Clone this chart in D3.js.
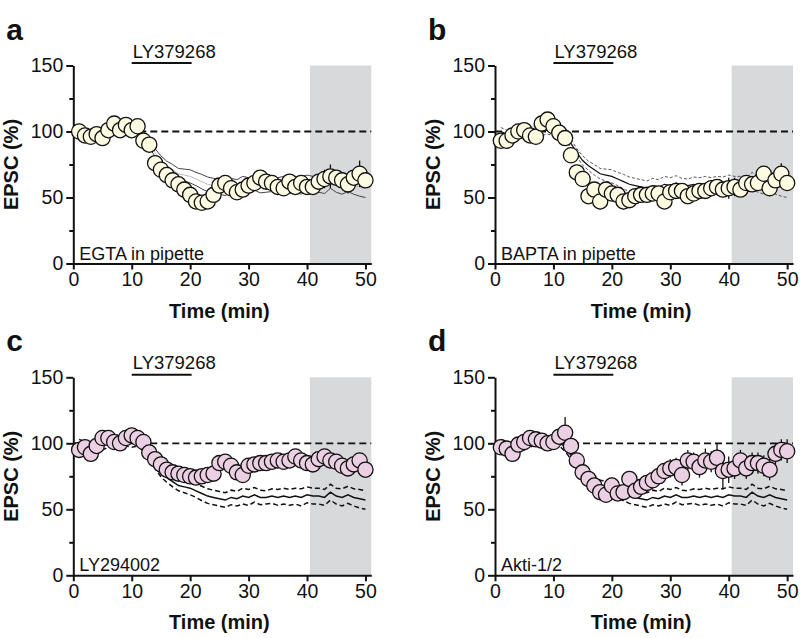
<!DOCTYPE html>
<html>
<head>
<meta charset="utf-8">
<script src="https://cdn.jsdelivr.net/npm/d3@7"></script>
<style>
  body { margin: 0; background: #fff; }
  svg text { font-family: "Liberation Sans", Arial, sans-serif; fill: #111; }
</style>
</head>
<body>
<svg id="fig" width="800" height="638"></svg>
<script>
// time points (min)
const times = [1,2,3,4,5,6,7,8,9,10,11,12,13,14,15,16,17,18,19,20,21,22,23,24,25,
  26,27,28,29,30,31,32,33,34,35,36,37,38,39,40,41,42,43,44,45,46,47,48,49,50];

// a: EGTA in pipette
const egtaMean = [100,97,96,98,95,101,106,101,105,101,104,93,90,76,71,67,63,60,56,52,47,46,47,52,59,
  61,57,54,56,59,61,65,62,61,58,57,62,58,61,58,58,62,64,66,65,63,60,65,68,63];
const egtaSem = [3,3,3,3,4,3,4,3,3,3,3,3,3,3,3,3,3,3,3,3,3,3,4,4,4,
  4,4,4,4,4,4,4,4,5,5,5,4,4,4,4,4,5,7,9,4,5,7,5,10,5];

// b: BAPTA in pipette
const baptaMean = [93,93,97,100,101,97,96,106,109,104,99,95,82,69,64,51,56,47,56,53,52,47,48,51,52,
  52,53,53,47,54,55,55,51,53,55,55,57,58,56,57,58,56,61,60,61,68,57,63,68,61];
const baptaSem = [3,3,3,3,3,3,3,3,3,3,3,3,4,4,4,5,5,6,5,4,4,6,5,4,4,
  4,4,5,5,5,4,4,5,5,4,4,5,5,6,8,7,5,5,5,5,5,6,5,8,6];

// c: LY294002
const lyMean = [95,97,92,98,104,104,101,100,104,106,104,101,93,88,84,80,78,77,76,75,74,75,76,77,85,
  86,83,78,76,83,84,85,85,86,87,86,87,90,87,85,84,88,90,87,86,83,81,84,87,80];
const lySem = [3,4,3,3,3,3,3,4,3,3,3,3,3,3,3,3,3,3,3,3,3,3,4,4,4,
  4,4,4,5,4,4,4,4,4,4,4,4,4,4,4,4,5,5,5,4,5,4,4,6,5];

// d: Akti-1/2
const aktiMean = [97,96,92,99,101,104,103,102,100,101,105,108,98,87,78,73,68,63,61,68,62,63,73,64,67,
  70,72,75,79,81,82,76,87,86,82,87,86,89,79,80,81,87,81,85,85,83,80,92,95,94];
const aktiSem = [4,4,4,4,4,4,4,4,4,4,5,12,5,5,5,5,5,5,5,6,5,5,6,5,5,
  6,6,6,6,7,7,8,8,7,8,9,8,11,14,10,8,8,8,8,8,8,8,8,8,9];

// LY379268 alone (reference trace, mean and SEM)
const ctrlMean = [100,98,97,99,98,100,102,100,101,100,101,97,91,84,78,74,71,68,67,66,64,62,60,59,58,
  57,59,58,60,59,61,59,59,60,59,60,59,60,59,61,60,60,59,63,60,59,61,59,58,57];
const ctrlSem = [3,3,3,3,3,3,3,3,3,3,3,3,3,3,3.5,3.5,4,4,4.5,5,5,5.5,5.5,5.5,5.5,
  5.5,5.5,5.5,6,6,5.5,5.5,5,5.5,6,6,6,6,6.5,6,6,6,6,6,6,6.5,6.5,6.5,7,7];

const xTicks = [0, 10, 20, 30, 40, 50];
const yTicks = [0, 50, 100, 150];
const yMinorTicks = [25, 75, 125];
const drugBar = [10, 20];
const analysisWindow = [40.5, 51];

const panels = [
  { letter: "a", note: "EGTA in pipette", mean: egtaMean, sem: egtaSem, fill: "#fdfbe2", ref: "thin", left: 73.3, bottom: 263.5 },
  { letter: "b", note: "BAPTA in pipette", mean: baptaMean, sem: baptaSem, fill: "#fdfbe2", ref: "light", left: 495, bottom: 263.5 },
  { letter: "c", note: "LY294002", mean: lyMean, sem: lySem, fill: "#ebd0e3", ref: "bold", left: 73.3, bottom: 575.3 },
  { letter: "d", note: "Akti-1/2", mean: aktiMean, sem: aktiSem, fill: "#ebd0e3", ref: "bold", left: 495, bottom: 575.3 }
];

const svg = d3.select("#fig");

panels.forEach(drawPanel);

function drawPanel(p) {
  const x = d3.scaleLinear().domain([0, 51]).range([p.left, p.left + 298]);
  const y = d3.scaleLinear().domain([0, 150]).range([p.bottom, p.bottom - 198]);
  const g = svg.append("g");

  // grey analysis window
  g.append("rect")
    .attr("x", x(analysisWindow[0]))
    .attr("y", y(150))
    .attr("width", x(analysisWindow[1]) - x(analysisWindow[0]))
    .attr("height", y(0) - y(150))
    .attr("fill", "#d8d9db");

  // 100% baseline
  g.append("line")
    .attr("x1", x(0)).attr("x2", x(51))
    .attr("y1", y(100)).attr("y2", y(100))
    .attr("stroke", "#111")
    .attr("stroke-width", 1.8)
    .attr("stroke-dasharray", "7,4");

  // axes
  const xAxis = g.append("g")
    .attr("transform", `translate(0,${y(0)})`)
    .call(d3.axisBottom(x).tickValues(xTicks).tickSize(6).tickSizeOuter(0).tickPadding(3));
  const yAxis = g.append("g")
    .attr("transform", `translate(${x(0)},0)`)
    .call(d3.axisLeft(y).tickValues(yTicks).tickSize(7).tickSizeOuter(0).tickPadding(3));
  const yMinor = g.append("g")
    .attr("transform", `translate(${x(0)},0)`)
    .call(d3.axisLeft(y).tickValues(yMinorTicks).tickSize(4).tickFormat(""));
  yMinor.select(".domain").remove();

  [xAxis, yAxis, yMinor].forEach(a => {
    a.selectAll("path, line").attr("stroke", "#111").attr("stroke-width", 2);
    a.selectAll("text").attr("font-size", 19.5).attr("fill", "#111");
  });

  // reference trace (LY379268 alone)
  const idx = d3.range(times.length);
  const line = f => d3.line().x(i => x(times[i])).y(i => y(f(i)));
  const upper = line(i => ctrlMean[i] + ctrlSem[i]);
  const lower = line(i => ctrlMean[i] - ctrlSem[i]);
  const mid = line(i => ctrlMean[i]);

  const refStyles = {
    thin:  { band: "#444", bandW: 1, dash: null, mid: "#aaa", midW: 0.8 },
    light: { band: "#444", bandW: 0.9, dash: "3,2", mid: "#111", midW: 1.2 },
    bold:  { band: "#111", bandW: 1.5, dash: "5,3", mid: "#111", midW: 1.5 }
  };
  const rs = refStyles[p.ref];
  [upper, lower].forEach(fn => {
    g.append("path")
      .attr("d", fn(idx))
      .attr("fill", "none")
      .attr("stroke", rs.band)
      .attr("stroke-width", rs.bandW)
      .attr("stroke-dasharray", rs.dash);
  });
  g.append("path")
    .attr("d", mid(idx))
    .attr("fill", "none")
    .attr("stroke", rs.mid)
    .attr("stroke-width", rs.midW);

  // error bars
  g.append("g").selectAll("line")
    .data(idx)
    .join("line")
    .attr("x1", i => x(times[i])).attr("x2", i => x(times[i]))
    .attr("y1", i => y(p.mean[i] - p.sem[i]))
    .attr("y2", i => y(p.mean[i] + p.sem[i]))
    .attr("stroke", "#111")
    .attr("stroke-width", 1.3);

  // points
  g.append("g").selectAll("circle")
    .data(idx)
    .join("circle")
    .attr("cx", i => x(times[i]))
    .attr("cy", i => y(p.mean[i]))
    .attr("r", 7.6)
    .attr("fill", p.fill)
    .attr("stroke", "#111")
    .attr("stroke-width", 1.3);

  // drug application bar
  g.append("line")
    .attr("x1", x(drugBar[0])).attr("x2", x(drugBar[1]) + 1.5)
    .attr("y1", y(150) - 2.5).attr("y2", y(150) - 2.5)
    .attr("stroke", "#111")
    .attr("stroke-width", 2);
  g.append("text")
    .attr("x", x(drugBar[0]) + 1)
    .attr("y", y(150) - 8)
    .attr("font-size", 18.5)
    .text("LY379268");

  // condition note
  g.append("text")
    .attr("x", x(0) + 6)
    .attr("y", y(0) - 4)
    .attr("font-size", 18)
    .text(p.note);

  // axis titles
  g.append("text")
    .attr("x", x(25))
    .attr("y", y(0) + 54)
    .attr("text-anchor", "middle")
    .attr("font-size", 20)
    .attr("font-weight", "bold")
    .text("Time (min)");
  g.append("text")
    .attr("transform", `translate(${x(0) - 55},${y(75)}) rotate(-90)`)
    .attr("text-anchor", "middle")
    .attr("font-size", 20)
    .attr("font-weight", "bold")
    .text("EPSC (%)");

  // panel letter
  g.append("text")
    .attr("x", x(0) - 67)
    .attr("y", y(150) - 26)
    .attr("font-size", 30)
    .attr("font-weight", "bold")
    .text(p.letter);
}
</script>
</body>
</html>
